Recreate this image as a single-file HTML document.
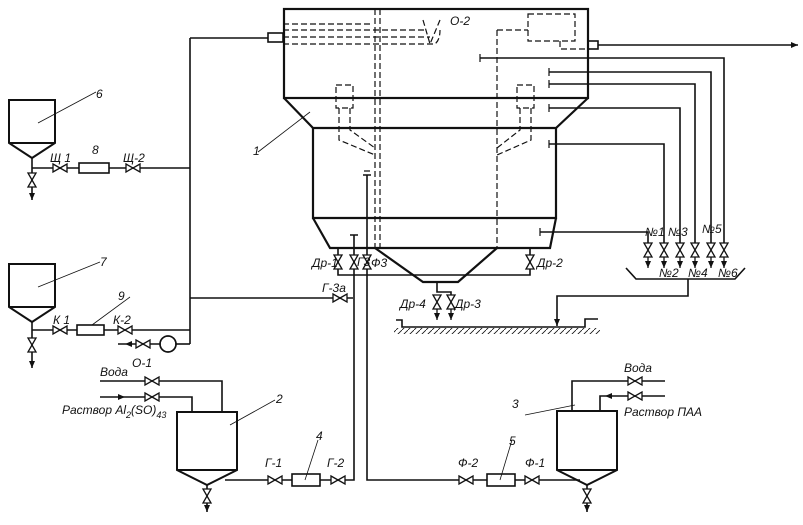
<!DOCTYPE html>
<html><head><meta charset="utf-8"><style>
html,body{margin:0;padding:0;background:#fff}
svg{display:block}
text{font-family:"Liberation Sans","DejaVu Sans",sans-serif;font-style:italic;font-size:12px;fill:#111}
</style></head><body>
<svg width="803" height="525" viewBox="0 0 803 525" xmlns="http://www.w3.org/2000/svg">
<defs>
<path id="vh" d="M-7,-4 L7,4 L7,-4 L-7,4Z" fill="#fff" stroke="#111" stroke-width="1.3"/>
<path id="vv" d="M-4,-7 L4,7 L-4,7 L4,-7Z" fill="#fff" stroke="#111" stroke-width="1.3"/>
<marker id="ar" markerWidth="8" markerHeight="8" refX="7" refY="4" orient="auto" markerUnits="userSpaceOnUse"><path d="M0,1 L7,4 L0,7Z" fill="#111"/></marker>
<pattern id="hatch" width="6" height="6" patternUnits="userSpaceOnUse"><path d="M0,6 L6,0" stroke="#111" stroke-width="0.8"/></pattern>
</defs>
<g fill="none" stroke="#111" stroke-width="1.6">
<rect x="284" y="9" width="304" height="89" stroke-width="2.2"/>
<path d="M284,98 L313,128 L556,128 L588,98" stroke-width="2.2"/>
<path d="M313,128 L313,218 L556,218 L556,128" stroke-width="2.2"/>
<path d="M313,218 L330,248 L550,248 L556,218" stroke-width="2.2"/>
<path d="M375,248 L423,282 L458,282 L497,248" stroke-width="2.2"/>
<g stroke-dasharray="6,3" stroke-width="1.2">
<line x1="375" y1="9" x2="375" y2="248"/><line x1="497" y1="30" x2="497" y2="248"/>
<line x1="380" y1="9" x2="380" y2="248"/>
<path d="M283,24 L370,24 M283,30 L425,30 M283,37 L430,37 M283,44 L435,44 Q440,40 440,30"/>
<path d="M423,20 L430,44 L440,20"/>
<rect x="528" y="14" width="47" height="27"/>
<path d="M497,30 L528,30 M560,41 L560,49 L590,49"/>
<rect x="336" y="85" width="17" height="23"/><rect x="517" y="85" width="17" height="23"/>
<path d="M339,108 L339,140 L375,155 M350,108 L350,130 L375,148"/>
<path d="M531,108 L531,140 L497,155 M520,108 L520,130 L497,148"/>
</g>
<rect x="268" y="33" width="15" height="9"/>
<path d="M190,38 L268,38 M190,38 L190,344"/>
<rect x="588" y="41" width="10" height="8"/>
<path d="M598,45 L798,45" marker-end="url(#ar)"/>
<path d="M9,100 L55,100 L55,143 L32,158 L9,143 Z" stroke-width="2"/><path d="M9,143 L55,143" stroke-width="2"/>
<path d="M32,158 L32,200" marker-end="url(#ar)"/>
<path d="M32,168 L190,168"/><rect x="79" y="163" width="30" height="10" fill="#fff"/>
<path d="M38,123 L96,92" stroke-width="0.8"/>
<path d="M9,264 L55,264 L55,307 L32,322 L9,307 Z" stroke-width="2"/><path d="M9,307 L55,307" stroke-width="2"/>
<path d="M32,322 L32,368" marker-end="url(#ar)"/>
<path d="M32,330 L190,330"/><rect x="77" y="325" width="27" height="10" fill="#fff"/>
<path d="M38,287 L100,262 M92,325 L130,297" stroke-width="0.8"/>
<path d="M190,298 L353,298"/>
<path d="M176,344 L190,344"/><circle cx="168" cy="344" r="8" fill="#fff"/>
<path d="M160,344 L118,344"/><path d="M140,344 L125,344" marker-end="url(#ar)" stroke-width="1"/>
<path d="M480,58 L724,58 L724,243"/>
<path d="M549,72 L711,72 L711,243"/>
<path d="M549,84 L695,84 L695,243"/>
<path d="M549,108 L680,108 L680,243"/>
<path d="M549,144 L664,144 L664,243"/>
<path d="M540,232 L648,232 L648,243"/>
<path d="M480,54 L480,62 M549,68 L549,76 M549,80 L549,88 M549,104 L549,112 M549,140 L549,148 M540,228 L540,236 M364,171 L370,171" stroke-width="1.2"/>
<g stroke-width="1.3">
<path d="M648,257 L648,268" marker-end="url(#ar)"/><path d="M664,257 L664,268" marker-end="url(#ar)"/>
<path d="M680,257 L680,268" marker-end="url(#ar)"/><path d="M695,257 L695,268" marker-end="url(#ar)"/>
<path d="M711,257 L711,268" marker-end="url(#ar)"/><path d="M724,257 L724,268" marker-end="url(#ar)"/>
</g>
<path d="M626,268 L636,279 L735,279 L745,268"/>
<path d="M688,279 L688,296 L557,296 L557,326" marker-end="url(#ar)"/>
<path d="M396,320 L402,320 L402,327 L585,327 L585,319 L598,319"/>
<rect x="394" y="328" width="206" height="6" fill="url(#hatch)" stroke="none"/>
<path d="M338,248 L338,275 L530,275 L530,248"/>
<path d="M354,235 L354,480 L338,480 M350,235 L358,235"/>
<path d="M367,175 L367,480 L580,480 M363,175 L371,175"/>
<path d="M437,282 L437,292 L451,292 L451,300"/>
<path d="M437,305 L437,320" marker-end="url(#ar)" stroke-width="1.3"/><path d="M451,305 L451,320" marker-end="url(#ar)" stroke-width="1.3"/>
<path d="M177,412 L237,412 L237,470 L207,485 L177,470 Z" stroke-width="2"/><path d="M177,470 L237,470" stroke-width="2"/>
<path d="M207,485 L207,512" marker-end="url(#ar)"/>
<path d="M100,381 L222,381 L222,412 M100,397 L192,397 L192,412"/>
<path d="M110,381 L125,381 M110,397 L125,397" marker-end="url(#ar)" stroke-width="1"/>
<path d="M225,480 L338,480"/><rect x="292" y="474" width="28" height="12" fill="#fff"/>
<path d="M230,425 L275,400 M305,480 L318,440" stroke-width="0.8"/>
<path d="M557,411 L617,411 L617,470 L587,485 L557,470 Z" stroke-width="2"/><path d="M557,470 L617,470" stroke-width="2"/>
<path d="M587,485 L587,512" marker-end="url(#ar)"/>
<path d="M665,381 L572,381 L572,411 M665,396 L600,396 L600,411"/>
<path d="M620,381 L605,381 M620,396 L605,396" marker-end="url(#ar)" stroke-width="1"/>
<rect x="487" y="474" width="28" height="12" fill="#fff"/>
<path d="M525,415 L575,405 M500,480 L512,440" stroke-width="0.8"/>
<path d="M258,152 L310,112" stroke-width="0.8"/>
</g>
<use href="#vh" x="60" y="168"/><use href="#vh" x="133" y="168"/><use href="#vv" x="32" y="180"/>
<use href="#vh" x="60" y="330"/><use href="#vh" x="125" y="330"/><use href="#vv" x="32" y="345"/>
<use href="#vh" x="143" y="344"/>
<use href="#vh" x="152" y="381"/><use href="#vh" x="152" y="397"/><use href="#vv" x="207" y="496"/>
<use href="#vh" x="275" y="480"/><use href="#vh" x="338" y="480"/>
<use href="#vh" x="340" y="298"/>
<use href="#vv" x="338" y="262"/><use href="#vv" x="354" y="262"/><use href="#vv" x="367" y="262"/><use href="#vv" x="530" y="262"/>
<use href="#vv" x="437" y="302"/><use href="#vv" x="451" y="302"/>
<use href="#vh" x="466" y="480"/><use href="#vh" x="532" y="480"/>
<use href="#vh" x="635" y="381"/><use href="#vh" x="635" y="396"/><use href="#vv" x="587" y="496"/>
<use href="#vv" x="648" y="250"/><use href="#vv" x="664" y="250"/><use href="#vv" x="680" y="250"/><use href="#vv" x="695" y="250"/><use href="#vv" x="711" y="250"/><use href="#vv" x="724" y="250"/>
<circle cx="168" cy="344" r="8" fill="none" stroke="#111" stroke-width="1.5"/>
<text x="96" y="98" font-size="13">6</text>
<text x="92" y="154">8</text><text x="50" y="162">Щ 1</text><text x="123" y="162">Щ-2</text>
<text x="100" y="266" font-size="13">7</text>
<text x="118" y="300">9</text><text x="53" y="324">К 1</text><text x="113" y="324">К-2</text>
<text x="132" y="367">О-1</text>
<text x="253" y="155" font-size="13">1</text>
<text x="450" y="25">О-2</text>
<text x="312" y="267">Др-1</text><text x="357" y="266" font-size="10">Г3</text><text x="371" y="267">Ф3</text>
<text x="537" y="267">Др-2</text>
<text x="322" y="292">Г-3а</text>
<text x="400" y="308">Др-4</text><text x="455" y="308">Др-3</text>
<text x="645" y="236" font-size="11">№1</text><text x="668" y="236" font-size="11">№3</text><text x="702" y="233" font-size="11">№5</text>
<text x="659" y="277" font-size="11">№2</text><text x="688" y="277" font-size="11">№4</text><text x="718" y="277" font-size="11">№6</text>
<text x="100" y="376">Вода</text>
<text x="62" y="414">Раствор Al<tspan font-size="9" dy="4">2</tspan><tspan dy="-4">(SO)</tspan><tspan font-size="9" dy="4">4</tspan><tspan font-size="9">3</tspan></text>
<text x="276" y="403" font-size="13">2</text>
<text x="316" y="440" font-size="13">4</text>
<text x="265" y="467">Г-1</text><text x="327" y="467">Г-2</text>
<text x="624" y="372">Вода</text>
<text x="624" y="416">Раствор ПАА</text>
<text x="512" y="408" font-size="13">3</text>
<text x="509" y="445" font-size="13">5</text>
<text x="458" y="467">Ф-2</text><text x="525" y="467">Ф-1</text>
</svg>
</body></html>
